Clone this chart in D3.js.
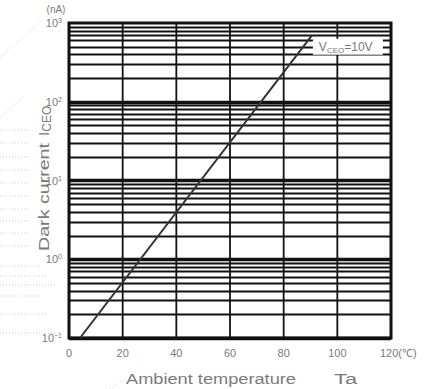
<!DOCTYPE html>
<html>
<head>
<meta charset="utf-8">
<script src="https://cdn.jsdelivr.net/npm/d3@7"></script>
<style>
  body { margin: 0; background: #fff; }
  text { font-family: "Liberation Sans", Arial, sans-serif; fill: #7a7a7a; }
</style>
</head>
<body>
<svg width="433" height="389"></svg>
<script>
// data
const temps = [4.1, 90.6];          // Ta (deg C)
const darkCurrent = [0.1, 700];     // I_CEO (nA)
const xTicks = [0, 20, 40, 60, 80, 100, 120];
const yDecades = [-1, 0, 1, 2, 3];

const svg = d3.select("svg");
const margin = { top: 23, left: 69, right: 42, bottom: 51 };
const width = 433 - margin.left - margin.right;
const height = 389 - margin.top - margin.bottom;

const x = d3.scaleLinear().domain([0, 120]).range([0, width]);
const y = d3.scaleLog().domain([0.1, 1000]).range([height, 0]);

const graph = svg.append("g")
  .attr("transform", `translate(${margin.left},${margin.top})`);

// faint leader lines from the scan
const faint = svg.append("g").attr("stroke", "#ccc").attr("stroke-dasharray", "1,2").attr("fill", "none");
[130, 143, 157, 170, 183, 196, 209, 221, 233, 246].forEach((v) =>
  faint.append("line").attr("x1", 0).attr("x2", 28).attr("y1", v).attr("y2", v));
[266, 276, 285, 296, 314, 333].forEach((v, i) =>
  faint.append("line").attr("x1", 0).attr("x2", 40 + (i % 3) * 8).attr("y1", v).attr("y2", v));
faint.append("line").attr("x1", 0).attr("y1", 58).attr("x2", 45).attr("y2", 18);
faint.append("line").attr("x1", 0).attr("y1", 118).attr("x2", 22).attr("y2", 98);
faint.append("line").attr("x1", 110).attr("y1", 389).attr("x2", 126).attr("y2", 378);

// horizontal grid: every log step
const minor = [];
yDecades.slice(0, -1).forEach((e) => {
  for (let k = 1; k < 10; k++) minor.push(k * Math.pow(10, e));
});
graph.append("g").selectAll("line").data(minor).enter().append("line")
  .attr("x1", 0).attr("x2", width)
  .attr("y1", (d) => Math.round(y(d)) + 0.5)
  .attr("y2", (d) => Math.round(y(d)) + 0.5)
  .attr("stroke", "#111")
  .attr("stroke-width", (d) => (Math.abs(Math.log10(d) % 1) < 1e-9 ? 3.5 : 1.8));

// vertical grid
graph.append("g").selectAll("line").data(xTicks).enter().append("line")
  .attr("x1", (d) => x(d)).attr("x2", (d) => x(d))
  .attr("y1", 0).attr("y2", height)
  .attr("stroke", "#111").attr("stroke-width", 1.8);

// frame
graph.append("rect").attr("width", width).attr("height", height)
  .attr("fill", "none").attr("stroke", "#111").attr("stroke-width", 3);

// the characteristic
const pts = temps.map((t, i) => [t, darkCurrent[i]]);
graph.append("path")
  .datum(pts)
  .attr("d", d3.line().x((d) => x(d[0])).y((d) => y(d[1])))
  .attr("fill", "none").attr("stroke", "#333").attr("stroke-width", 2);

// condition label with white box
const lab = graph.append("g").attr("transform", `translate(${x(92)},${y(500)})`);
lab.append("rect").attr("x", -3).attr("y", -8).attr("width", 70).attr("height", 16).attr("fill", "#fff");
const lt = lab.append("text").attr("x", 3).attr("y", 4).attr("font-size", 12);
lt.append("tspan").text("V");
lt.append("tspan").attr("font-size", 8).attr("dy", 2).text("CEO");
lt.append("tspan").attr("dy", -2).text("=10V");

// x tick labels
graph.append("g").selectAll("text").data(xTicks).enter().append("text")
  .attr("x", (d) => x(d)).attr("y", height + 19)
  .attr("text-anchor", (d) => (d === 120 ? "start" : "middle"))
  .attr("dx", (d) => (d === 120 ? -11 : 0))
  .attr("font-size", 11)
  .text((d) => (d === 120 ? "120(℃)" : d));

// y tick labels
const yl = graph.append("g").selectAll("text").data(yDecades).enter().append("text")
  .attr("x", -7).attr("y", (d) => y(Math.pow(10, d)) + 4)
  .attr("text-anchor", "end").attr("font-size", 11);
yl.append("tspan").text("10");
yl.append("tspan").attr("font-size", 7).attr("dy", -4).text((d) => (d < 0 ? "−" + -d : d));

graph.append("text").attr("x", -13).attr("y", -10).attr("text-anchor", "middle")
  .attr("font-size", 10).text("(nA)");

// axis titles
svg.append("text").attr("x", 126).attr("y", 384)
  .attr("font-size", 15.5).attr("textLength", 170).attr("lengthAdjust", "spacingAndGlyphs")
  .text("Ambient temperature");
svg.append("text").attr("x", 334).attr("y", 384)
  .attr("font-size", 15.5).attr("textLength", 23).attr("lengthAdjust", "spacingAndGlyphs").text("Ta");

svg.append("text")
  .attr("transform", "translate(49,251) rotate(-90)")
  .attr("font-size", 15.5).attr("textLength", 108).attr("lengthAdjust", "spacingAndGlyphs")
  .text("Dark current");
const ic = svg.append("text")
  .attr("transform", "translate(49,136) rotate(-90)")
  .attr("font-size", 15.5);
ic.append("tspan").text("I");
ic.append("tspan").attr("font-size", 12).attr("dy", 2).text("CEO");
</script>
</body>
</html>
